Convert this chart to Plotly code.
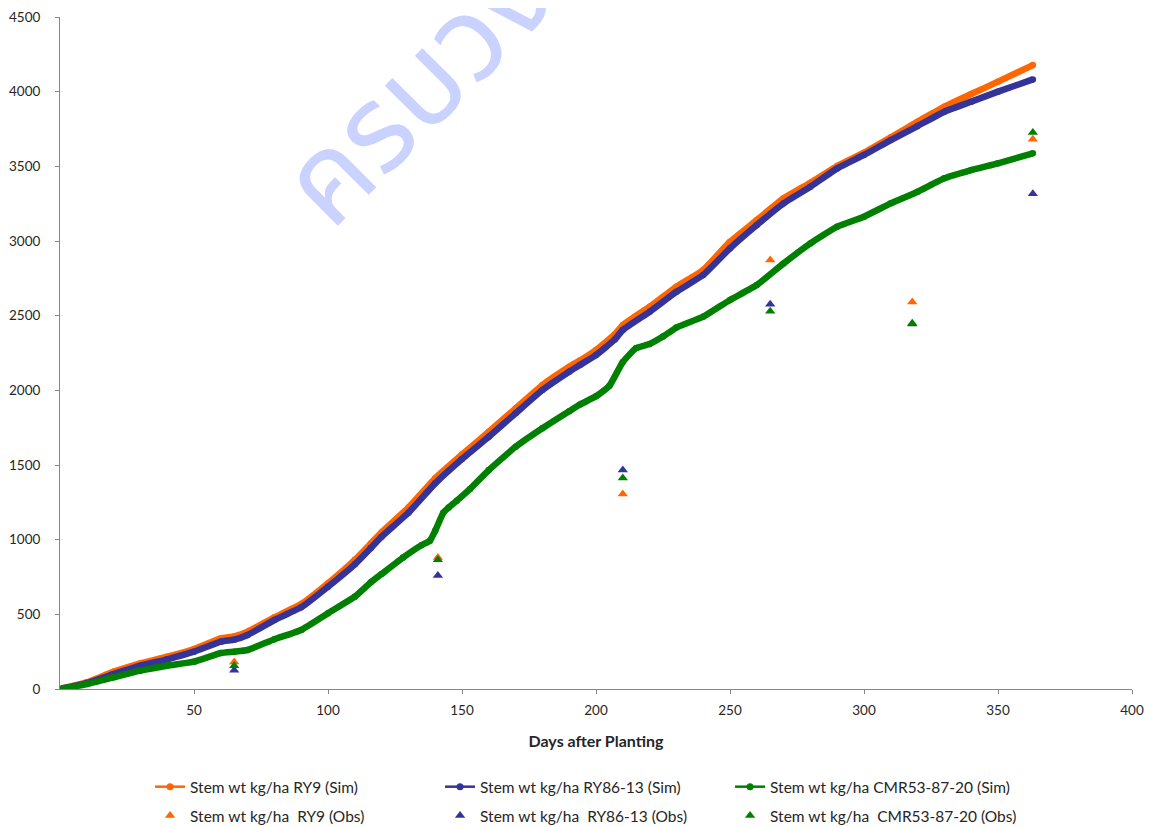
import plotly.graph_objects as go

# ---------------- data ----------------
days_ry9 = [1, 10, 20, 30, 40, 50, 60, 65, 70, 80, 90, 100, 110, 116, 120, 130, 140, 150, 160, 170,
            180, 190, 194, 200, 207, 210, 220, 230, 240, 250, 260, 270, 280, 290, 300, 310, 320,
            330, 340, 350, 363]
sim_ry9 = [5, 45, 116, 172, 216, 268, 339, 352, 384, 480, 569, 708, 865, 975, 1050, 1215, 1411, 1570,
           1723, 1879, 2036, 2158, 2200, 2270, 2375, 2437, 2560, 2694, 2806, 2995, 3140, 3286,
           3390, 3502, 3591, 3694, 3799, 3899, 3984, 4067, 4178]

days_ry86 = days_ry9
sim_ry86 = [5, 40, 100, 156, 199, 250, 317, 330, 362, 462, 547, 685, 835, 945, 1020, 1180, 1377,
            1540, 1689, 1846, 2002, 2125, 2170, 2236, 2340, 2404, 2526, 2660, 2772, 2951, 3107,
            3252, 3363, 3486, 3576, 3676, 3770, 3866, 3933, 4000, 4082]

days_cmr = [1, 10, 20, 30, 40, 50, 60, 65, 70, 80, 90, 100, 110, 116, 120, 128, 135, 138, 140,
            143, 145, 148, 153, 160, 170, 180, 190, 194, 200, 205, 210, 215, 220, 225, 230, 240,
            250, 260, 270, 280, 290, 300, 310, 320, 330, 340, 350, 363]
sim_cmr = [3, 33, 78, 123, 156, 183, 241, 250, 261, 333, 395, 507, 618, 715, 770, 880, 964, 992,
           1060, 1180, 1215, 1260, 1340, 1466, 1622, 1746, 1860, 1905, 1960, 2030, 2190, 2283,
           2310, 2360, 2420, 2493, 2605, 2705, 2850, 2984, 3096, 3163, 3252, 3330, 3420, 3475,
           3520, 3587]

obs_days = [65, 141, 210, 265, 318, 363]
obs_ry9 = [180, 880, 1305, 2873, 2591, 3682]
obs_ry86 = [125, 760, 1466, 2577, 2445, 3316]
obs_cmr = [155, 865, 1413, 2529, 2450, 3727]

x_ticks = [50, 100, 150, 200, 250, 300, 350, 400]
y_ticks = [0, 500, 1000, 1500, 2000, 2500, 3000, 3500, 4000, 4500]

names_sim = ["Stem wt kg/ha RY9 (Sim)", "Stem wt kg/ha RY86-13 (Sim)", "Stem wt kg/ha CMR53-87-20 (Sim)"]
names_obs = ["Stem wt kg/ha  RY9 (Obs)", "Stem wt kg/ha  RY86-13 (Obs)", "Stem wt kg/ha  CMR53-87-20 (Obs)"]
colors = ["#FF6600", "#333399", "#008000"]

watermark = "ครบวงจร"

# ---------------- figure ----------------
FONT = "Lato, 'Open Sans', sans-serif"
TXT = "#262626"
fig = go.Figure()

sims = [(days_ry9, sim_ry9), (days_ry86, sim_ry86), (days_cmr, sim_cmr)]
for (dx, dy), nm, c in zip(sims, names_sim, colors):
    fig.add_trace(go.Scatter(
        x=dx, y=dy, name=nm, mode="lines+markers", showlegend=False,
        line=dict(color=c, width=6.5, shape="spline", smoothing=0.4),
        marker=dict(color=c, size=6.5, symbol="circle"),
    ))
    # legend entry (thin line + dot, like the reference legend key)
    fig.add_trace(go.Scatter(
        x=[None], y=[None], name=nm, mode="lines+markers",
        line=dict(color=c, width=2.5), marker=dict(color=c, size=7, symbol="circle"),
        legend="legend",
    ))

for dy, nm, c in zip([obs_ry9, obs_ry86, obs_cmr], names_obs, colors):
    fig.add_trace(go.Scatter(
        x=obs_days, y=dy, name=nm, mode="markers",
        marker=dict(color=c, size=9, symbol="triangle-up"),
        legend="legend2",
    ))

fig.add_annotation(
    text=watermark, xref="paper", yref="paper", x=0.377, y=0.955,
    xanchor="center", yanchor="middle",
    showarrow=False, textangle=-45,
    font=dict(size=120, color="#CAD2FF", family="'Noto Sans Thai', 'Noto Sans', sans-serif"),
)

axis_common = dict(
    showline=True, linecolor="#868686", linewidth=1,
    ticks="outside", ticklen=4, tickcolor="#868686",
    showgrid=False, zeroline=False,
    tickfont=dict(family=FONT, size=13.5, color=TXT),
)

leg_common = dict(orientation="h", x=0.084, xanchor="left", yanchor="middle",
                  entrywidth=245, entrywidthmode="pixels",
                  font=dict(family=FONT, size=15.5, color=TXT), bgcolor="rgba(0,0,0,0)")

# page body has an 8px margin: figure is sized so the plot area sits at x 60..1132, y 17..689
fig.update_layout(
    width=1136, height=819,
    margin=dict(l=52, r=12, t=9, b=138, autoexpand=False),
    paper_bgcolor="white", plot_bgcolor="white",
    font=dict(family=FONT, size=14, color=TXT),
    xaxis=dict(range=[0, 400], tickvals=x_ticks, ticktext=[str(v) for v in x_ticks],
               ticklabelstandoff=5,
               title=dict(text="<b>Days after Planting</b>", standoff=18,
                          font=dict(family=FONT, size=16, color=TXT)),
               **axis_common),
    yaxis=dict(range=[0, 4500], tickvals=y_ticks, ticktext=[str(v) for v in y_ticks],
               ticklabelstandoff=12, **axis_common),
    legend=dict(y=-0.146, **leg_common),
    legend2=dict(y=-0.189, **leg_common),
    showlegend=True,
)

fig.write_html("out.html")
